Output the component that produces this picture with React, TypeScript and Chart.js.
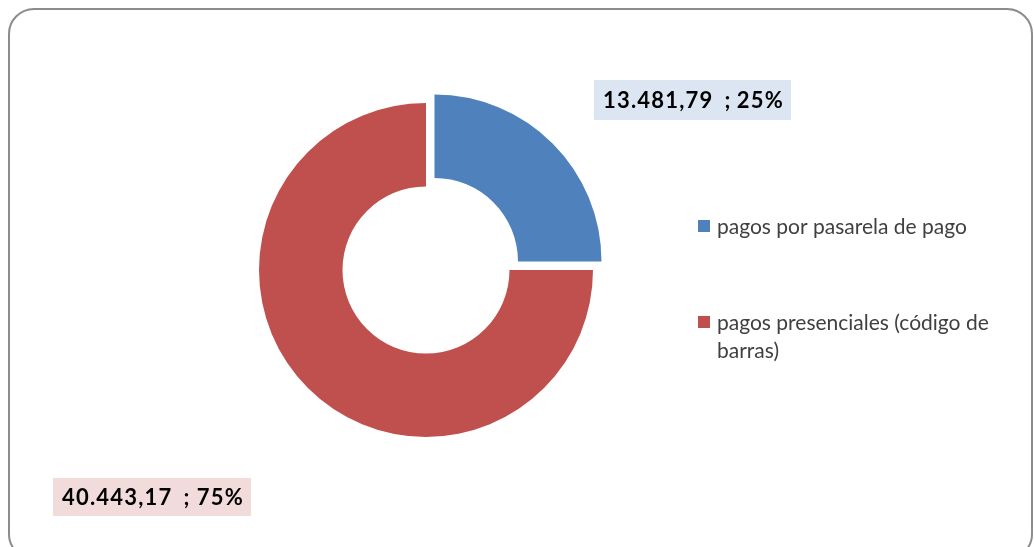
import React, { useEffect, useRef } from "react";
import { Chart, registerables } from "chart.js";

Chart.register(...registerables);

const categories = ["pagos por pasarela de pago", "pagos presenciales (código de barras)"];
const legendLines = [["pagos por pasarela de pago"], ["pagos presenciales (código de", "barras)"]];
const values = [13481.79, 40443.17];
const valueLabels = ["13.481,79", "40.443,17"];
const percentLabels = ["25%", "75%"];
const colors = ["#4F81BD", "#C0504D"];
const labelFills = ["#DCE6F2", "#F2DCDB"];
const offsets = [48, 0];

const FONT = "Lato, 'Open Sans', sans-serif";

const overlayPlugin = {
  id: "overlay",
  afterDraw(chart: any) {
    const ctx = chart.ctx as CanvasRenderingContext2D;
    const meta = chart.getDatasetMeta(0);
    const arcs = meta.data;
    ctx.save();
    const cx = arcs[0].x;
    const cy = arcs[0].y;
    const R = arcs[0].outerRadius;
    const boxes = [
      { x: cx + 168, y: cy - 190, w: 197, h: 40 },
      { x: cx - 373, y: cy + 208, w: 198, h: 38 },
    ];
    ctx.font = `bold 22px ${FONT}`;
    (ctx as any).letterSpacing = "1.2px";
    ctx.textBaseline = "middle";
    boxes.forEach((b, i) => {
      ctx.fillStyle = labelFills[i];
      ctx.fillRect(b.x, b.y, b.w, b.h);
      ctx.fillStyle = "#000000";
      const ty = b.y + b.h / 2 + 1;
      ctx.textAlign = "left";
      const vx = b.x + 9;
      ctx.fillText(valueLabels[i], vx, ty);
      const vw = ctx.measureText(valueLabels[i]).width;
      ctx.fillText(";", vx + vw + 11, ty);
      ctx.textAlign = "right";
      ctx.fillText(percentLabels[i], b.x + b.w - 7, ty);
    });
    (ctx as any).letterSpacing = "0px";
    const lx = cx + R + 105;
    const itemY = [cy - 44, cy + 52];
    ctx.textAlign = "left";
    ctx.font = `21px ${FONT}`;
    legendLines.forEach((lines, i) => {
      ctx.fillStyle = colors[i];
      ctx.fillRect(lx, itemY[i] - 6, 12, 12);
      ctx.fillStyle = "#404040";
      lines.forEach((t, j) => {
        ctx.fillText(t, lx + 19, itemY[i] + j * 28 + 1);
      });
    });
    ctx.restore();
  },
};

export default function App() {
  const ref = useRef<HTMLCanvasElement>(null);
  useEffect(() => {
    if (!ref.current) return;
    const chart = new Chart(ref.current, {
      type: "doughnut",
      data: {
        labels: categories,
        datasets: [
          {
            data: values,
            backgroundColor: colors,
            borderWidth: 0,
            offset: offsets,
            hoverOffset: 0,
          },
        ],
      },
      options: {
        animation: false,
        responsive: false,
        cutout: "50%",
        radius: 167,
        layout: { padding: { left: 100, right: 282, top: 50, bottom: 57 } },
        plugins: {
          legend: { display: false },
          tooltip: { enabled: false },
        },
        events: [],
      } as any,
      plugins: [overlayPlugin],
    });
    return () => chart.destroy();
  }, []);

  return (
    <div style={{ position: "absolute", left: 0, top: 0, width: 1034, height: 547, overflow: "hidden", background: "#fff" }}>
      <div
        style={{
          position: "absolute",
          left: 8,
          top: 8,
          width: 1025,
          height: 552,
          border: "2px solid #8c8c8c",
          borderRadius: 26,
          boxSizing: "border-box",
        }}
      />
      <canvas ref={ref} width={1034} height={547} style={{ position: "absolute", left: 0, top: 0, width: 1034, height: 547 }} />
    </div>
  );
}
